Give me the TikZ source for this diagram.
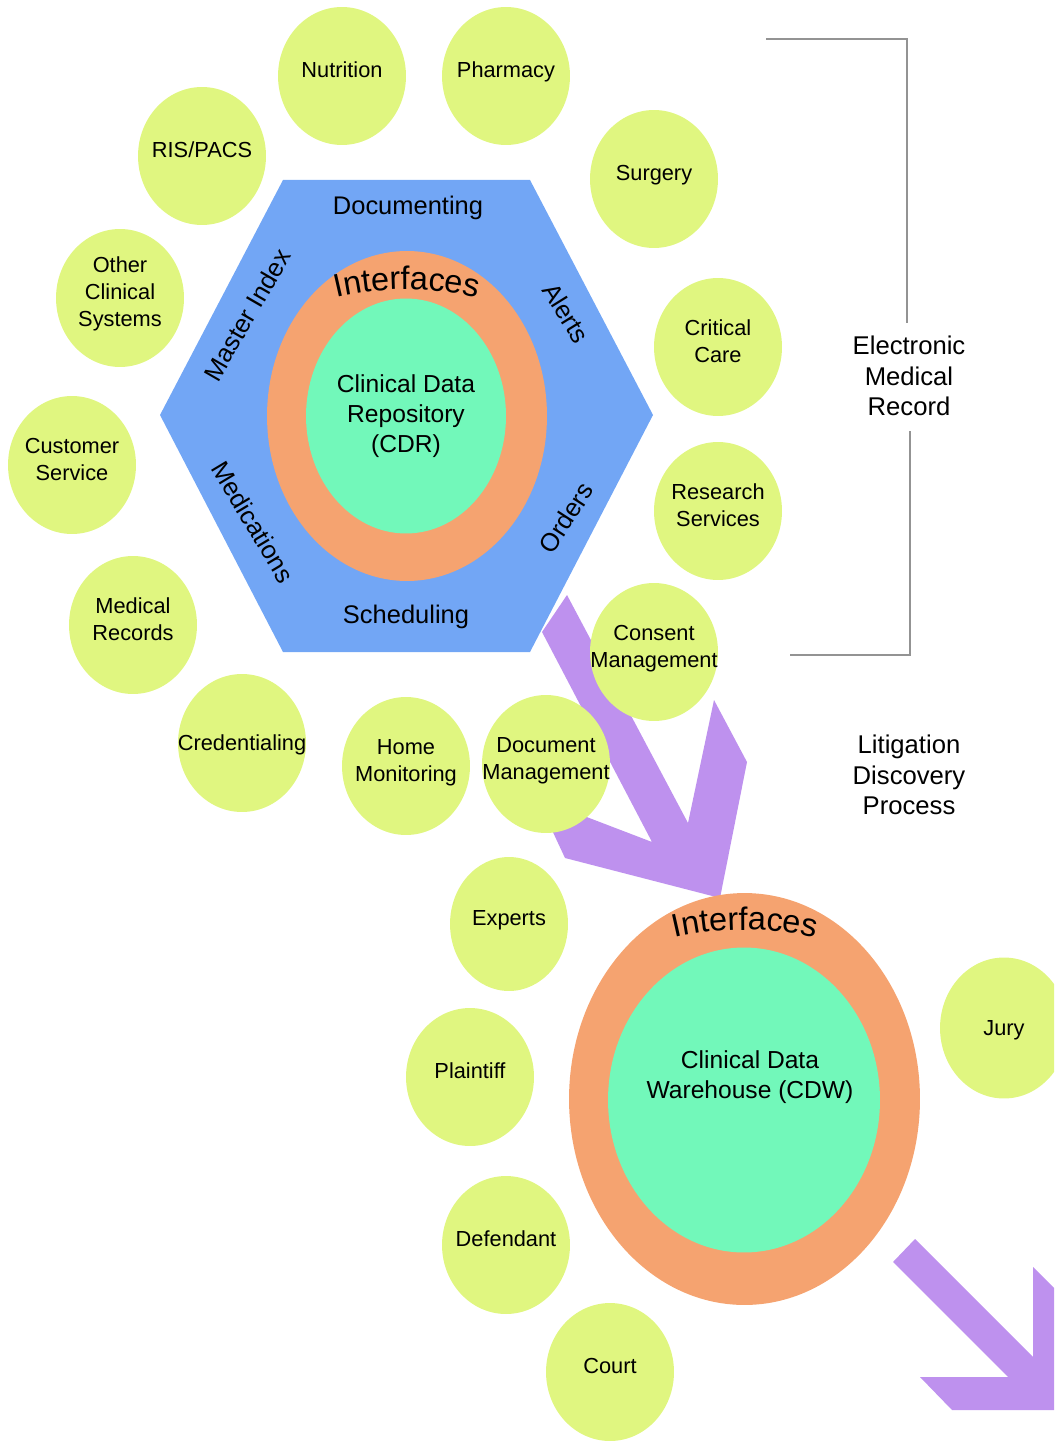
\documentclass[tikz,border=0pt]{standalone}
\usepackage{fontspec}
\setmainfont{Liberation Sans}
\usepackage{xcolor}
\usetikzlibrary{shapes.geometric, decorations.text}
\definecolor{hexblue}{RGB}{114,166,245}
\definecolor{ringorange}{RGB}{245,163,112}
\definecolor{coregreen}{RGB}{114,248,186}
\definecolor{topiclime}{RGB}{224,246,128}
\definecolor{arrowpurple}{RGB}{190,145,238}

\begin{document}
\begin{tikzpicture}[
    x=0.02cm, y=-0.02cm,
    topic/.style={ellipse, fill=topiclime, minimum width=2.56cm, minimum height=2.76cm, inner xsep=-0.45cm, inner ysep=0pt, align=center, font=\fontsize{12.4}{15.3}\selectfont, text height=9pt, text depth=7pt},
    twoline/.style={text height=24.3pt},
    threeline/.style={text height=39.6pt},
    midline/.style={text depth=0pt},
    hexlabel/.style={font=\fontsize{14.5}{17}\selectfont},
    corelabel/.style={align=center, font=\fontsize{14}{17}\selectfont},
    sidelabel/.style={align=center, font=\fontsize{14.6}{17.5}\selectfont},
    ring/.style={ellipse, fill=ringorange, inner sep=0pt},
    core/.style={ellipse, fill=coregreen, inner sep=0pt},
    bigarrow/.style={fill=arrowpurple},
    bracket/.style={draw=gray!85, line width=0.7pt}
]
    \useasboundingbox (0,0) rectangle (1054,1442);
    \clip (0,0) rectangle (1054,1442);

    % Discovery arrows
    \fill[bigarrow] (567,595) -- (688,823) -- (714,700) -- (747,762) -- (720,898)
        -- (565,858) -- (537,798) -- (652,842) -- (542,632) -- cycle;
    \fill[bigarrow] (915,1239) -- (1033,1357) -- (1033,1267) -- (1066,1300) -- (1066,1410)
        -- (952,1410) -- (920,1377) -- (1008,1377) -- (893,1262) -- cycle;

    % EMR hexagon
    \fill[hexblue] (283,180) -- (530,180) -- (653,415) -- (530,652) -- (283,652) -- (160,415) -- cycle;
    \node[hexlabel] (doc) at (408,208) {Documenting};
    \node[hexlabel] (sched) at (406,617) {Scheduling};
    \node[hexlabel, rotate=60] (mpi) at (247,315) {Master Index};
    \node[hexlabel, rotate=-58] (alerts) at (566,313) {Alerts};
    \node[hexlabel, rotate=-59] (meds) at (253,522) {Medications};
    \node[hexlabel, rotate=57] (orders) at (566,518) {Orders};

    % Repository
    \node[ring, minimum width=5.6cm, minimum height=6.6cm] (cdrring) at (407,416) {};
    \node[core, minimum width=4cm, minimum height=4.7cm, corelabel] (cdr) at (406,416) {Clinical Data\\Repository\\(CDR)};
    \path[decorate, decoration={text along path, text align=center,
        text={|\fontsize{18.5}{20}\selectfont|Interfaces}}]
        (318,303) .. controls (370,285) and (444,285) .. (496,303);

    % Warehouse
    \node[ring, minimum width=7.02cm, minimum height=8.24cm] (cdwring) at (744.5,1099) {};
    \node[core, minimum width=5.44cm, minimum height=6.1cm] (cdwcore) at (744,1100) {};
    \node[corelabel] (cdw) at (750,1077) {Clinical Data\\Warehouse (CDW)};
    \path[decorate, decoration={text along path, text align=center,
        text={|\fontsize{18.5}{20}\selectfont|Interfaces}}]
        (660,942) .. controls (710,926) and (780,926) .. (830,942);

    % Clinical systems
    \node[topic] (nutrition) at (342,76) {Nutrition};
    \node[topic] (pharmacy) at (506,76) {Pharmacy};
    \node[topic] (rispacs) at (202,156) {RIS/PACS};
    \node[topic] (surgery) at (654,179) {Surgery};
    \node[topic, threeline] (otherclin) at (120,298) {Other\\Clinical\\Systems};
    \node[topic, twoline] (critcare) at (718,347) {Critical\\Care};
    \node[topic, twoline] (custserv) at (72,465) {Customer\\Service};
    \node[topic, twoline] (research) at (718,511) {Research\\Services};
    \node[topic, twoline] (medrec) at (133,625) {Medical\\Records};
    \node[topic, twoline] (consent) at (654,652) {Consent\\Management};
    \node[topic, midline] (cred) at (242,743) {Credentialing};
    \node[topic, twoline] (homemon) at (406,766) {Home\\Monitoring};
    \node[topic, twoline] (docmgmt) at (546,764) {Document\\Management};

    % Litigation parties
    \node[topic, minimum width=2.36cm, minimum height=2.68cm] (experts) at (509,924) {Experts};
    \node[topic] (plaintiff) at (470,1077) {Plaintiff};
    \node[topic] (defendant) at (506,1245) {Defendant};
    \node[topic] (court) at (610,1372) {Court};
    \node[topic, midline, minimum height=2.82cm] (jury) at (1004,1028) {Jury};

    % Side labels and bracket
    \node[sidelabel] (emr) at (909,376) {Electronic\\Medical\\Record};
    \node[sidelabel] (ldp) at (909,775) {Litigation\\Discovery\\Process};
    \coordinate (brtop) at (766,39);
    \coordinate (brbot) at (790,655);
    \draw[bracket] (brtop) -| ([xshift=-0.04cm, yshift=0.14cm]emr.north);
    \draw[bracket] (brbot) -| ([xshift=0.02cm, yshift=-0.18cm]emr.south);
\end{tikzpicture}
\end{document}
